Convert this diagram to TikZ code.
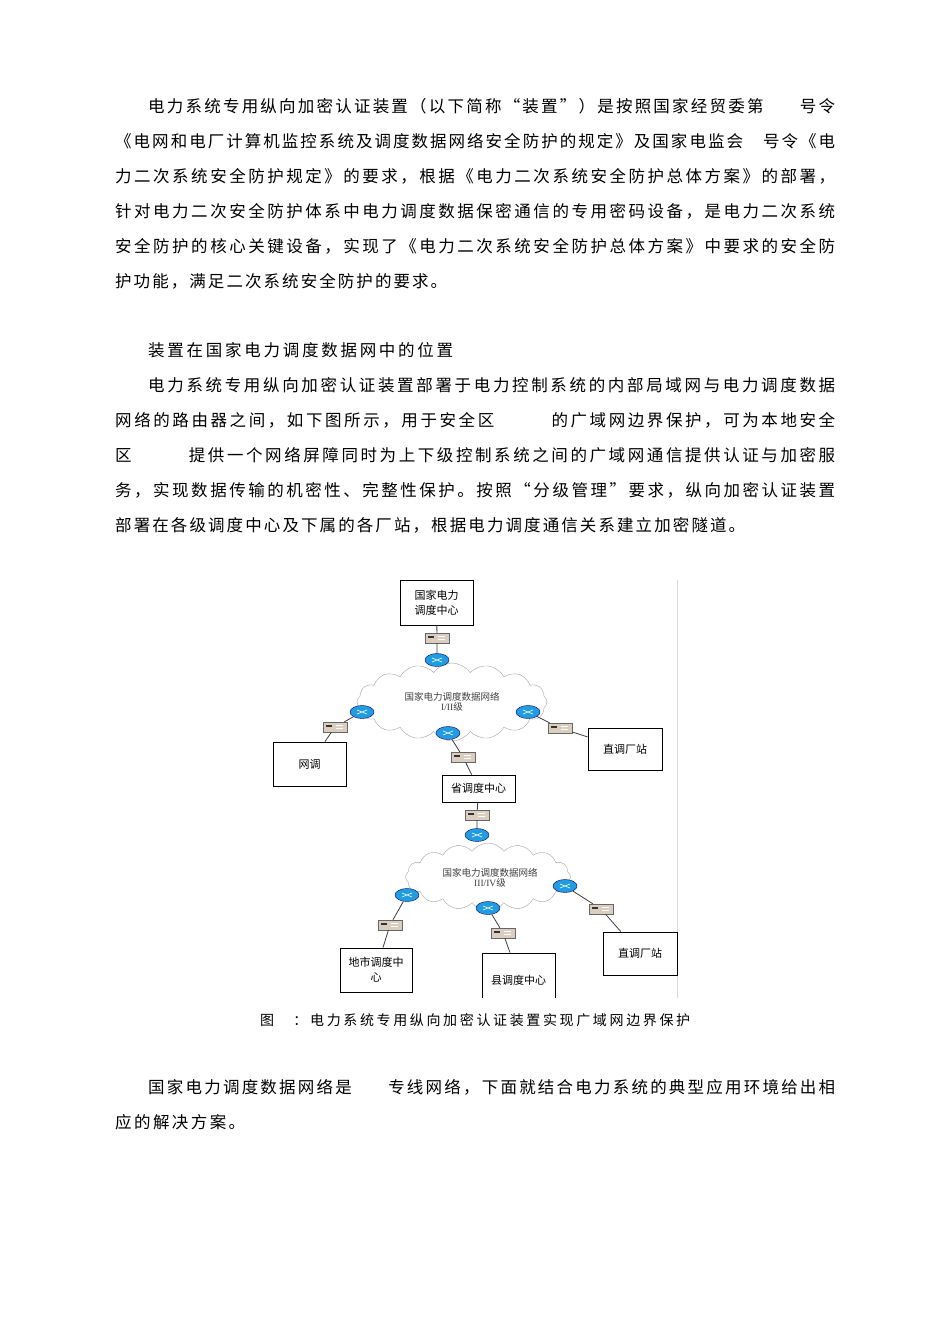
\documentclass[tikz,border=0pt]{standalone}
\usepackage{fontspec}
\setmainfont{Liberation Serif}
\newfontfamily\cjk{Noto Sans CJK SC}
\usetikzlibrary{shapes.symbols,shapes.geometric}
\def\spr#1{\ifx#1\relax\else#1\hskip 0pt plus 1fil\expandafter\spr\fi}
\newcommand{\sline}[2]{\hbox to #1pt{\spr#2\relax\unskip}}
\def\Ga{\hspace{32pt}}\def\Gb{\hspace{16pt}}\def\Gc{\hspace{52pt}}\def\Gd{\hspace{14pt}}
\begin{document}
\begin{tikzpicture}[x=1pt,y=-1pt,
 bx/.style={draw,thick,fill=white,align=center,font=\cjk\fontsize{11}{15}\selectfont,inner sep=1pt},
 link/.style={draw=black!75,line width=0.8pt},
 full/.style={anchor=base west,inner sep=0pt,font=\cjk\fontsize{16.5}{20}\selectfont}]
\useasboundingbox (0,0) rectangle (950,1344);
\fill[white] (0,0) rectangle (950,1344);
\node[full] (l1) at (148,112) {\sline{687}{电力系统专用纵向加密认证装置（以下简称“装置”）是按照国家经贸委第\Ga 号令}};
\node[full] (l2) at (115,147) {\sline{720}{《电网和电厂计算机监控系统及调度数据网络安全防护的规定》及国家电监会\Gb 号令《电}};
\node[full] (l3) at (115,182) {\sline{720}{力二次系统安全防护规定》的要求，根据《电力二次系统安全防护总体方案》的部署，}};
\node[full] (l4) at (115,217) {\sline{720}{针对电力二次安全防护体系中电力调度数据保密通信的专用密码设备，是电力二次系统}};
\node[full] (l5) at (115,252) {\sline{720}{安全防护的核心关键设备，实现了《电力二次系统安全防护总体方案》中要求的安全防}};
\node[full] (l6) at (115,287) {\sline{332}{护功能，满足二次系统安全防护的要求。}};
\node[full] (h1) at (148,356) {\sline{305}{装置在国家电力调度数据网中的位置}};
\node[full] (p1) at (148,391) {\sline{687}{电力系统专用纵向加密认证装置部署于电力控制系统的内部局域网与电力调度数据}};
\node[full] (p2) at (115,426) {\sline{720}{网络的路由器之间，如下图所示，用于安全区\Gc 的广域网边界保护，可为本地安全}};
\node[full] (p3) at (115,461) {\sline{720}{区\Gc 提供一个网络屏障同时为上下级控制系统之间的广域网通信提供认证与加密服}};
\node[full] (p4) at (115,496) {\sline{720}{务，实现数据传输的机密性、完整性保护。按照“分级管理”要求，纵向加密认证装置}};
\node[full] (p5) at (115,531) {\sline{630}{部署在各级调度中心及下属的各厂站，根据电力调度通信关系建立加密隧道。}};
\node[full,font=\cjk\fontsize{14}{16}\selectfont] (cap) at (260,1025) {\sline{430}{图\Gd ：电力系统专用纵向加密认证装置实现广域网边界保护}};
\node[full] (q1) at (148,1093) {\sline{687}{国家电力调度数据网络是\Ga 专线网络，下面就结合电力系统的典型应用环境给出相}};
\node[full] (q2) at (115,1128) {\sline{130}{应的解决方案。}};
% side line
\draw[black!15,line width=1pt] (677,580) coordinate (va) -- (677,998) coordinate (vb);
\tikzset{cl/.style={cloud,cloud puffs=16,cloud puff arc=110,draw=black!35,fill=white,aspect=2.4,inner sep=0pt},
 dev/.style={draw=black!60,fill=black!30!brown!30,minimum width=24pt,minimum height=10pt,inner sep=0pt},
 rt/.style={ellipse,draw=blue!50!black,fill=cyan!80!blue!90,minimum width=24pt,minimum height=13pt,inner sep=0pt},
 ct/.style={font=\cjk\fontsize{9.5}{12}\selectfont,text=black!75,align=center}}
\node[cl,minimum width=190pt,minimum height=78pt] (c1) at (452,702) {};
\node[ct] (t1) at (452,702) {国家电力调度数据网络\\[-2pt]{\rmfamily I/II}级};
\node[cl,minimum width=165pt,minimum height=68pt] (c2) at (488,877) {};
\node[ct] (t2) at (490,878) {国家电力调度数据网络\\[-2pt]{\rmfamily III/IV}级};
% boxes
\node[bx,minimum width=73pt,minimum height=45pt] (b1) at (436.5,602.5) {国家电力\\调度中心};
\node[bx,minimum width=73pt,minimum height=44pt] (b2) at (309.5,764) {网调};
\node[bx,minimum width=74pt,minimum height=42pt] (b3) at (625,749) {直调厂站};
\node[bx,minimum width=73pt,minimum height=27pt] (b4) at (478.5,788.5) {省调度中心};
\node[bx,minimum width=72pt,minimum height=44pt] (b5) at (376,970) {地市调度中\\心};
\node[bx,minimum width=73pt,minimum height=47pt] (b6) at (518.5,976.5) {};
\node[bx,draw=none,fill=none] (b6t) at (518.5,980) {县调度中心};
\fill[white] (478,998) rectangle (560,1004);
\node[bx,minimum width=74pt,minimum height=43pt] (b7) at (640,953.5) {直调厂站};
% devices and routers
\node[dev] (d1) at (437,638) {}; \node[rt] (r1) at (437,660) {};
\node[rt] (r2) at (362,712) {}; \node[dev] (d2) at (335,727) {};
\node[rt] (r3) at (448,733) {}; \node[dev] (d3) at (463,757) {};
\node[rt] (r4) at (528,712) {}; \node[dev] (d4) at (560,728) {};
\node[dev] (d5) at (477,815) {}; \node[rt] (r5) at (477,835) {};
\node[rt] (r6) at (407,895) {}; \node[dev] (d6) at (390,925) {};
\node[rt] (r7) at (488,908) {}; \node[dev] (d7) at (503,933) {};
\node[rt] (r8) at (565,886) {}; \node[dev] (d8) at (601,909) {};
\path[link] (b1) -- (d1) (d1) -- (r1)
 (r2) -- (d2) (d2) -- (b2)
 (r3) -- (d3) (d3) -- (b4)
 (r4) -- (d4) (d4) -- (b3)
 (b4) -- (d5) (d5) -- (r5)
 (r6) -- (d6) (d6) -- (b5)
 (r7) -- (d7) (d7) -- (b6)
 (r8) -- (d8) (d8) -- (b7);
\foreach \n in {d1,d2,d3,d4,d5,d6,d7,d8}{
 \fill[black!80] ([xshift=-9pt]\n.center) rectangle +(6pt,2pt);
 \draw[white] ([xshift=1pt,yshift=-1.5pt]\n.center) -- +(7pt,0) ([xshift=1pt,yshift=1.5pt]\n.center) -- +(7pt,0);}
\foreach \n in {r1,r2,r3,r4,r5,r6,r7,r8}{
 \draw[white,line width=0.6pt] ([xshift=-5pt,yshift=-2pt]\n.center) -- +(10pt,4pt) ([xshift=-5pt,yshift=2pt]\n.center) -- +(10pt,-4pt);}
\end{tikzpicture}
\end{document}
